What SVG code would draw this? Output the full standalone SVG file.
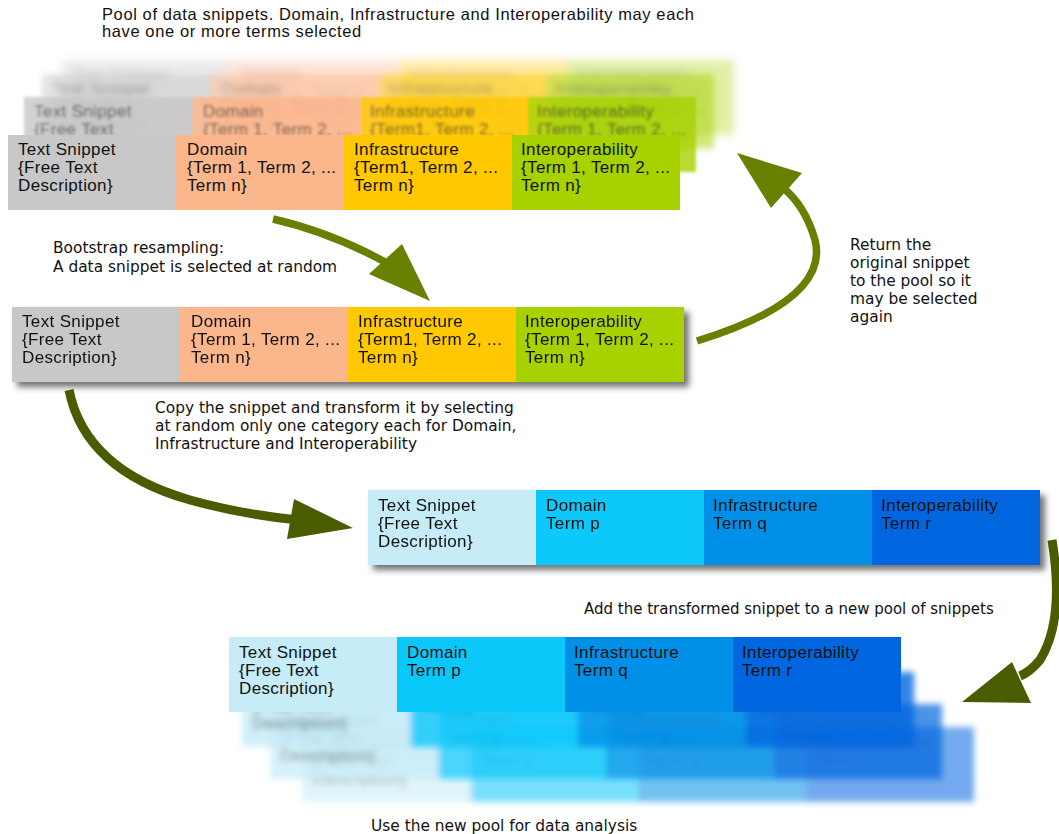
<svg xmlns="http://www.w3.org/2000/svg" xmlns:xlink="http://www.w3.org/1999/xlink" width="1059" height="834" viewBox="0 0 1059 834">
<style>
.cell{font-family:"Liberation Sans",Arial,sans-serif;font-size:17px;letter-spacing:0.35px;fill:#111}
.lbl{font-family:"DejaVu Sans",Verdana,sans-serif;font-size:15.4px;fill:#111}
.cap{font-family:"Liberation Sans",Arial,sans-serif;font-size:16.5px;letter-spacing:0.6px;fill:#111}
.arrLight{fill:none;stroke:#678000;stroke-width:7.5}
.arrDark{fill:none;stroke:#4a5c00;stroke-width:9}
.headLight{fill:#678000}
.headDark{fill:#4a5c00}
</style>
<defs>
<filter id="shadow" x="-5%" y="-20%" width="115%" height="150%">
<feDropShadow dx="5" dy="5" stdDeviation="3" flood-color="#444" flood-opacity="0.75"/>
</filter>
<filter id="blur1" x="-10%" y="-40%" width="120%" height="180%"><feGaussianBlur stdDeviation="1.4"/></filter>
<filter id="blur2" x="-10%" y="-40%" width="120%" height="180%"><feGaussianBlur stdDeviation="3"/></filter>
<filter id="blur3" x="-10%" y="-40%" width="120%" height="180%"><feGaussianBlur stdDeviation="4.5"/></filter>
<g id="warmRow">
<rect x="0" y="0" width="168" height="75" fill="#c8c8c8"/>
<rect x="168" y="0" width="168" height="75" fill="#fcb68b"/>
<rect x="336" y="0" width="168" height="75" fill="#ffc800"/>
<rect x="504" y="0" width="168" height="75" fill="#a7d200"/>
<text class="cell" x="10" y="20">Text Snippet</text>
<text class="cell" x="10" y="38">{Free Text</text>
<text class="cell" x="10" y="56">Description}</text>
<text class="cell" x="179" y="20">Domain</text>
<text class="cell" x="179" y="38">{Term 1, Term 2, ...</text>
<text class="cell" x="179" y="56">Term n}</text>
<text class="cell" x="346" y="20">Infrastructure</text>
<text class="cell" x="346" y="38">{Term1, Term 2, ...</text>
<text class="cell" x="346" y="56">Term n}</text>
<text class="cell" x="513" y="20">Interoperability</text>
<text class="cell" x="513" y="38">{Term 1, Term 2, ...</text>
<text class="cell" x="513" y="56">Term n}</text>
</g>
<g id="blueRow">
<rect x="0" y="0" width="168" height="75" fill="#c6ecf8"/>
<rect x="168" y="0" width="168" height="75" fill="#0bc8fb"/>
<rect x="336" y="0" width="168" height="75" fill="#0090e8"/>
<rect x="504" y="0" width="168" height="75" fill="#0066e0"/>
<text class="cell" x="10" y="21">Text Snippet</text>
<text class="cell" x="10" y="39">{Free Text</text>
<text class="cell" x="10" y="57">Description}</text>
<text class="cell" x="178" y="21">Domain</text>
<text class="cell" x="178" y="39">Term p</text>
<text class="cell" x="345" y="21">Infrastructure</text>
<text class="cell" x="345" y="39">Term q</text>
<text class="cell" x="513" y="21">Interoperability</text>
<text class="cell" x="513" y="39">Term r</text>
</g>
</defs>
<rect width="1059" height="834" fill="#ffffff"/>

<g id="caption-pool">
<text class="cap" x="102" y="20">Pool of data snippets. Domain, Infrastructure and Interoperability may each</text>
<text class="cap" x="102" y="37">have one or more terms selected</text>
</g>

<g id="pool-original">
<use xlink:href="#warmRow" transform="translate(62,60)" opacity="0.35" filter="url(#blur3)"/>
<use xlink:href="#warmRow" transform="translate(42,74)" opacity="0.5" filter="url(#blur2)"/>
<use xlink:href="#warmRow" transform="translate(24,97)" opacity="0.8" filter="url(#blur1)"/>
<use xlink:href="#warmRow" transform="translate(8,135)"/>
</g>

<g id="label-bootstrap">
<text class="lbl" x="53" y="253">Bootstrap resampling:</text>
<text class="lbl" x="53" y="272">A data snippet is selected at random</text>
</g>

<g id="snippet-selected">
<use xlink:href="#warmRow" transform="translate(12,307)" filter="url(#shadow)"/>
</g>

<g id="label-return">
<text class="lbl" x="850" y="250">Return the</text>
<text class="lbl" x="850" y="268">original snippet</text>
<text class="lbl" x="850" y="286">to the pool so it</text>
<text class="lbl" x="850" y="304">may be selected</text>
<text class="lbl" x="850" y="322">again</text>
</g>

<g id="label-copy">
<text class="lbl" x="155" y="413">Copy the snippet and transform it by selecting</text>
<text class="lbl" x="155" y="431">at random only one category each for Domain,</text>
<text class="lbl" x="155" y="449">Infrastructure and Interoperability</text>
</g>

<g id="snippet-transformed">
<use xlink:href="#blueRow" transform="translate(368,490)" filter="url(#shadow)"/>
</g>

<g id="label-add">
<text class="lbl" x="584" y="614" style="font-size:15px">Add the transformed snippet to a new pool of snippets</text>
</g>

<g id="pool-new">
<use xlink:href="#blueRow" transform="translate(302,727)" opacity="0.55" filter="url(#blur2)"/>
<use xlink:href="#blueRow" transform="translate(270,704)" opacity="0.7" filter="url(#blur2)"/>
<use xlink:href="#blueRow" transform="translate(242,672)" opacity="0.8" filter="url(#blur2)"/>
<use xlink:href="#blueRow" transform="translate(229,637)"/>
</g>

<g id="label-use">
<text class="lbl" x="371" y="831">Use the new pool for data analysis</text>
</g>

<g id="connectors">
<path class="arrLight" d="M273,219 Q330,232 385,262"/>
<polygon class="headLight" points="430,301 369,274 402,244"/>
<path class="arrLight" d="M697,341 Q830,300 815,240 Q805,205 782,187"/>
<polygon class="headLight" points="737,153 802,173 771,208"/>
<path class="arrDark" d="M69,390 Q85,470 190,500 Q245,515 298,520"/>
<polygon class="headDark" points="353,528 294,499 287,539"/>
<path class="arrDark" d="M1052,540 Q1065,620 1040,660 Q1030,672 1020,676"/>
<polygon class="headDark" points="962,702 1012,662 1031,703"/>
</g>
</svg>
